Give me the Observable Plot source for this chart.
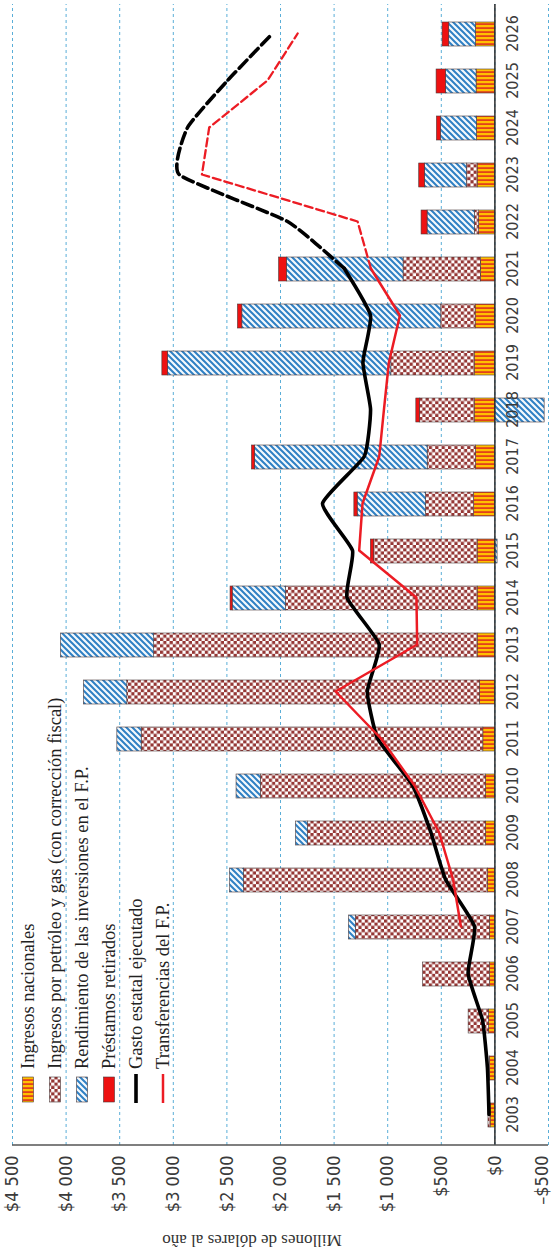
<!DOCTYPE html>
<html><head><meta charset="utf-8">
<script src="https://cdn.jsdelivr.net/npm/d3@7"></script>
<script src="https://cdn.jsdelivr.net/npm/@observablehq/plot@0.6"></script>
<style>
html,body{margin:0;padding:0;background:#fff;overflow:hidden;width:552px;height:1249px;}
#wrap{position:absolute;left:0;top:0;width:1249px;height:552px;transform-origin:0 0;transform:translate(0,1249px) rotate(-90deg);}
</style></head><body><div id="wrap"></div>
<script>
const years = ["2003","2004","2005","2006","2007","2008","2009","2010","2011","2012","2013","2014","2015","2016","2017","2018","2019","2020","2021","2022","2023","2024","2025","2026"];
const series = ["Ingresos nacionales","Ingresos por petróleo y gas (con corrección fiscal)","Rendimiento de las inversiones en el F.P.","Préstamos retirados"];
const nacionales = [40,45,55,45,47,65,84,84,108,140,161,161,161,193,177,189,189,180,131,147,161,168,171,177];
const petroleo = [20,5,190,625,1250,2276,1660,2099,3187,3289,3017,1788,965,450,450,510,777,320,721,40,100,0,0,0];
const rendimiento = [0,0,0,0,65,130,112,227,227,405,870,497,-25,637,1611,-464,2084,1856,1089,441,392,336,286,249];
const prestamos = [0,0,0,0,0,0,0,0,0,0,0,20,31,31,28,34,52,41,72,56,53,37,87,62];
const gasto = [55,70,115,250,190,460,597,768,1094,1190,1079,1380,1328,1608,1219,1160,1231,1160,1405,1934,2945,2867,2494,2074];
const transferencias = [null,null,null,null,317,390,520,750,1063,1486,725,732,1266,1235,1079,1035,989,886,1157,1281,2733,2665,2121,1840];
const lineLabels = ["Gasto estatal ejecutado","Transferencias del F.P."];
const yTicks = [-500,0,500,1000,1500,2000,2500,3000,3500,4000,4500];
const yTitle = "Millones de dólares al año";

const patterns = ["url(#pNac)","url(#pOil)","url(#pRend)","#ee1111"];
const seriesValues = [nacionales, petroleo, rendimiento, prestamos];
const rows = [];
years.forEach((yr, i) => series.forEach((s, j) => rows.push({year: yr, serie: s, value: seriesValues[j][i]})));
const gastoRows = years.map((yr, i) => ({year: yr, value: gasto[i]}));
const transRows = years.map((yr, i) => ({year: yr, value: transferencias[i]})).filter(d => d.value != null);
const cut = "2021";

const fmt = v => (v < 0 ? "–" : "") + "$" + d3.format(",")(Math.abs(v)).replace(/,/g, " ");
const narrow = "'Liberation Sans Narrow','DejaVu Sans Condensed',sans-serif";

const chart = Plot.plot({
  width: 1249, height: 552,
  marginLeft: 104, marginRight: 4, marginTop: 12, marginBottom: 4,
  x: {type: "band", domain: years, paddingInner: 0.5, paddingOuter: 0.25, axis: null},
  y: {domain: [-500, 4500], axis: null},
  color: {domain: series, range: patterns},
  style: {background: "#fff"},
  marks: [
    Plot.ruleY(yTicks, {stroke: "#5aaed8", strokeWidth: 1, strokeDasharray: "3,3"}),
    Plot.barY(rows, {x: "year", y: "value", fill: "serie", stroke: "#4a3838", strokeWidth: 0.6}),
    Plot.ruleY([0], {stroke: "#2a2a2a", strokeWidth: 1.5}),
    Plot.axisY({ticks: yTicks, tickSize: 0, tickPadding: 11, tickFormat: fmt, fontSize: 18, fill: "#3a3a3a",
      fontFamily: narrow, label: null}),
    Plot.line(gastoRows.filter(d => d.year <= cut), {x: "year", y: "value", stroke: "#000", strokeWidth: 3.6, curve: "cardinal", tension: 0.55}),
    Plot.line(gastoRows.filter(d => d.year >= cut), {x: "year", y: "value", stroke: "#000", strokeWidth: 3.6, strokeDasharray: "11,5", curve: "cardinal", tension: 0.55}),
    Plot.line(transRows.filter(d => d.year <= cut), {x: "year", y: "value", stroke: "#ec1c24", strokeWidth: 2.5}),
    Plot.line(transRows.filter(d => d.year >= cut), {x: "year", y: "value", stroke: "#ec1c24", strokeWidth: 2.3, strokeDasharray: "8,4"}),
    Plot.text(years, {x: d => d, frameAnchor: "bottom", dy: -31, text: d => d, fontSize: 16, fill: "#3a3a3a",
      fontFamily: narrow, ariaLabel: "xlabels"})
  ]
});

const svg = d3.select(chart);
const defs = svg.insert("defs", ":first-child");
const pn = defs.append("pattern").attr("id","pNac").attr("patternUnits","userSpaceOnUse").attr("width",4).attr("height",4);
pn.append("rect").attr("width",4).attr("height",4).attr("fill","#FFC000");
pn.append("rect").attr("width",1.8).attr("height",4).attr("fill","#E2401C");
const po = defs.append("pattern").attr("id","pOil").attr("patternUnits","userSpaceOnUse").attr("width",6.4).attr("height",6.4);
po.append("rect").attr("width",6.4).attr("height",6.4).attr("fill","#fff");
po.append("rect").attr("width",3.2).attr("height",3.2).attr("fill","#943634");
po.append("rect").attr("x",3.2).attr("y",3.2).attr("width",3.2).attr("height",3.2).attr("fill","#943634");
const pr = defs.append("pattern").attr("id","pRend").attr("patternUnits","userSpaceOnUse").attr("width",6).attr("height",6);
pr.append("rect").attr("width",6).attr("height",6).attr("fill","#f4f9fd");
pr.append("path").attr("d","M-1,7 L7,-1 M-4,4 L4,-4 M2,10 L10,2").attr("stroke","#2f80c4").attr("stroke-width",2);

function stretch(sel, k) {
  sel.each(function() {
    const t = this.getAttribute("transform") || "";
    this.setAttribute("transform", t + ` scale(1,${k})`);
  });
}
// keep the bottom value label just inside the edge
svg.selectAll("text").filter(function(){ return this.textContent === fmt(-500); })
  .attr("transform", function(){ return "translate(0,-6) " + (this.getAttribute("transform") || ""); });
stretch(svg.selectAll('g[aria-label="xlabels"] text'), 1.2);

// value axis line
svg.append("line").attr("x1",104).attr("x2",104).attr("y1",12).attr("y2",548).attr("stroke","#555").attr("stroke-width",1.5);

// y title
svg.append("text").attr("transform","translate(8,252) rotate(-90)").attr("text-anchor","middle").attr("dy","0.35em")
  .attr("font-family","'Liberation Serif',serif").attr("font-size",17).attr("fill","#333").text(yTitle);

// legend
const lg = svg.append("g").attr("font-family","'Liberation Serif',serif").attr("font-size",18.5).attr("fill","#222").attr("text-anchor","start");
const items = [...series.map((s,i)=>({label:s, fill:patterns[i]})), {label: lineLabels[0], line:"#000", w:3.6}, {label: lineLabels[1], line:"#ec1c24", w:2.5}];
items.forEach((it, i) => {
  const cy = 28 + i * 27;
  if (it.fill) lg.append("rect").attr("x",147).attr("y",cy-5.5).attr("width",25).attr("height",11).attr("fill",it.fill).attr("stroke","#4a3838").attr("stroke-width",0.6);
  else lg.append("line").attr("x1",146).attr("x2",175).attr("y1",cy).attr("y2",cy).attr("stroke",it.line).attr("stroke-width",it.w);
  lg.append("text").attr("x",180).attr("y",cy).attr("dy","0.35em").attr("text-anchor","start").text(it.label);
});

document.getElementById("wrap").appendChild(chart);
</script>
</body></html>
